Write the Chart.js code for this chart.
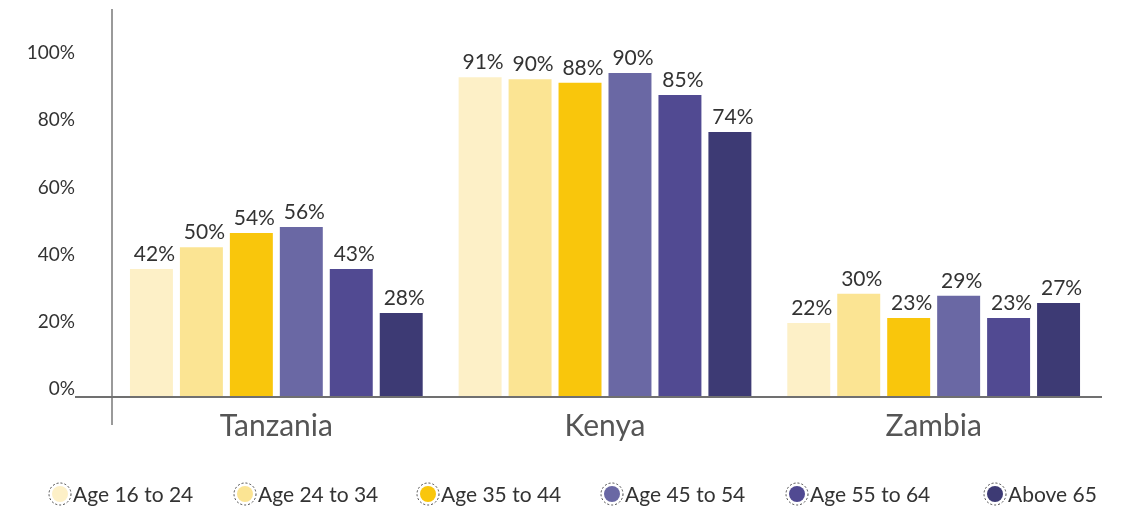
<!DOCTYPE html>
<html>
<head>
<meta charset="utf-8">
<script src="https://cdn.jsdelivr.net/npm/chart.js@4/dist/chart.umd.min.js"></script>
<style>
  html, body { margin: 0; padding: 0; background: #fff; }
  #wrap { width: 1127px; height: 512px; position: relative; }
</style>
</head>
<body>
<div id="wrap"><canvas id="c" width="1127" height="512"></canvas></div>
<script>
// ---- data ----
const countries = ["Tanzania", "Kenya", "Zambia"];
const seriesNames = ["Age 16 to 24", "Age 24 to 34", "Age 35 to 44", "Age 45 to 54", "Age 55 to 64", "Above 65"];
// bar heights as drawn on the axis
const age16to24 = [38.1, 95.2, 22.0];
const age24to34 = [44.6, 94.6, 30.7];
const age35to44 = [48.8, 93.5, 23.5];
const age45to54 = [50.6, 96.4, 30.1];
const age55to64 = [38.1, 89.9, 23.5];
const above65   = [25.0, 78.9, 28.0];
// printed value labels
const label16to24 = ["42%", "91%", "22%"];
const label24to34 = ["50%", "90%", "30%"];
const label35to44 = ["54%", "88%", "23%"];
const label45to54 = ["56%", "90%", "29%"];
const label55to64 = ["43%", "85%", "23%"];
const labelAbove65 = ["28%", "74%", "27%"];
const yTicks = [0, 20, 40, 60, 80, 100];

const colors = ["#FDF0C7", "#FBE493", "#F9C60C", "#6A68A4", "#514A92", "#3D3A74"];
const values = [age16to24, age24to34, age35to44, age45to54, age55to64, above65];
const labels = [label16to24, label24to34, label35to44, label45to54, label55to64, labelAbove65];

const FONT = "Lato, 'Open Sans', sans-serif";

const datasets = seriesNames.map((n, i) => ({
  label: n,
  data: values[i],
  valueLabels: labels[i],
  backgroundColor: colors[i],
  borderWidth: 0,
  categoryPercentage: 0.912,
  barPercentage: 0.86
}));

const axesLines = {
  id: 'axesLines',
  afterDraw(chart) {
    const ctx = chart.ctx, a = chart.chartArea;
    ctx.save();
    ctx.lineWidth = 2;
    ctx.strokeStyle = '#9a9a9a';
    ctx.beginPath();
    ctx.moveTo(a.left, 9);
    ctx.lineTo(a.left, 425);
    ctx.stroke();
    ctx.strokeStyle = '#707070';
    ctx.beginPath();
    ctx.moveTo(75, a.bottom);
    ctx.lineTo(1102, a.bottom);
    ctx.stroke();
    ctx.restore();
  }
};

const valueLabelsPlugin = {
  id: 'valueLabels',
  afterDatasetsDraw(chart) {
    const ctx = chart.ctx;
    ctx.save();
    ctx.font = "21px " + FONT;
    ctx.fillStyle = '#333333';
    ctx.textAlign = 'center';
    ctx.textBaseline = 'alphabetic';
    chart.data.datasets.forEach((ds, di) => {
      const meta = chart.getDatasetMeta(di);
      meta.data.forEach((bar, i) => {
        ctx.fillText(ds.valueLabels[i], bar.x + 3, bar.y - 8);
      });
    });
    ctx.restore();
  }
};

const legendXs = [60, 245, 428, 612, 797, 995];
const customLegend = {
  id: 'customLegend',
  afterDraw(chart) {
    const ctx = chart.ctx;
    const y = 494;
    ctx.save();
    chart.data.datasets.forEach((ds, i) => {
      const cx = legendXs[i];
      ctx.setLineDash([2, 2]);
      ctx.lineWidth = 1;
      ctx.strokeStyle = '#444';
      ctx.beginPath();
      ctx.arc(cx, y, 11, 0, Math.PI * 2);
      ctx.stroke();
      ctx.setLineDash([]);
      ctx.fillStyle = ds.backgroundColor;
      ctx.beginPath();
      ctx.arc(cx, y, 8, 0, Math.PI * 2);
      ctx.fill();
      ctx.fillStyle = '#333333';
      ctx.font = "21px " + FONT;
      ctx.textAlign = 'left';
      ctx.textBaseline = 'middle';
      ctx.fillText(ds.label, cx + 13, y + 1);
    });
    ctx.restore();
  }
};

new Chart(document.getElementById('c'), {
  type: 'bar',
  data: { labels: countries, datasets },
  options: {
    responsive: false,
    animation: false,
    devicePixelRatio: 1,
    layout: { padding: { top: 61, right: 29, bottom: 0, left: 0 } },
    plugins: { legend: { display: false }, tooltip: { enabled: false } },
    scales: {
      y: {
        min: 0, max: 100,
        afterFit(s) { s.width = 112; },
        afterBuildTicks(s) { s.ticks = yTicks.map(v => ({ value: v })); },
        grid: { display: false, drawTicks: false },
        border: { display: false },
        ticks: {
          padding: 37,
          labelOffset: -8,
          color: '#333',
          font: { family: FONT, size: 19 },
          callback: v => v + '%'
        }
      },
      x: {
        afterFit(s) { s.height = 115; },
        grid: { display: false, drawTicks: false },
        border: { display: false },
        ticks: {
          padding: 11,
          color: '#555',
          font: { family: FONT, size: 30 }
        }
      }
    }
  },
  plugins: [axesLines, valueLabelsPlugin, customLegend]
});
</script>
</body>
</html>
